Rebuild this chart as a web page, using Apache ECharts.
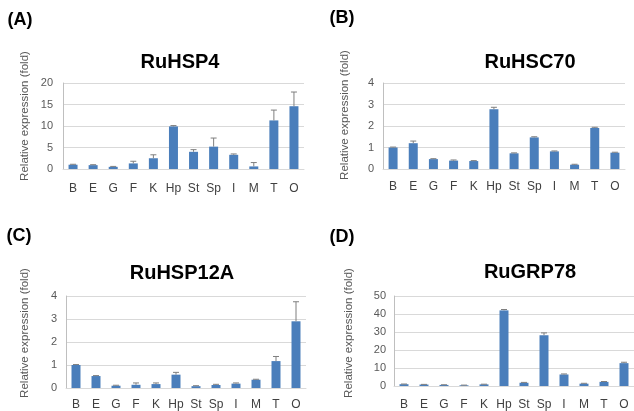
<!DOCTYPE html>
<html><head><meta charset="utf-8">
<script src="https://cdn.jsdelivr.net/npm/echarts@6/dist/echarts.min.js"></script>
<style>html,body{margin:0;padding:0;background:#fff}#c{width:634px;height:411px}</style>
</head><body><div id="c"></div>
<script>
const categories = ['B','E','G','F','K','Hp','St','Sp','I','M','T','O'];
const panelLabels = ['(A)','(B)','(C)','(D)'];
const titles = ['RuHSP4','RuHSC70','RuHSP12A','RuGRP78'];
const yName = 'Relative expression (fold)';
const yMax = [20, 4, 4, 50];
const yInterval = [5, 1, 1, 10];
const valuesA = [1.0, 0.9, 0.5, 1.3, 2.5, 9.9, 4.0, 5.2, 3.3, 0.6, 11.3, 14.6];
const errorsA = [0.1, 0.1, 0.1, 0.5, 0.8, 0.2, 0.5, 2.0, 0.2, 0.9, 2.4, 3.3];
const valuesB = [1.0, 1.2, 0.46, 0.39, 0.37, 2.78, 0.73, 1.47, 0.82, 0.2, 1.91, 0.76];
const errorsB = [0.02, 0.1, 0.02, 0.03, 0.02, 0.09, 0.02, 0.03, 0.02, 0.02, 0.03, 0.02];
const valuesC = [1.0, 0.52, 0.1, 0.14, 0.17, 0.58, 0.08, 0.13, 0.19, 0.36, 1.17, 2.9];
const errorsC = [0.02, 0.02, 0.02, 0.08, 0.05, 0.1, 0.02, 0.03, 0.03, 0.02, 0.2, 0.85];
const valuesD = [1.0, 0.8, 0.6, 0.4, 0.9, 42, 1.8, 28.2, 6.4, 1.3, 2.3, 12.7];
const errorsD = [0.1, 0.1, 0.1, 0.1, 0.1, 0.5, 0.2, 1.3, 0.3, 0.2, 0.2, 0.5];

const values = [valuesA, valuesB, valuesC, valuesD];
const errors = [errorsA, errorsB, errorsC, errorsD];

// layout
const grids = [
  {left: 63, top: 83, width: 241, height: 86},
  {left: 383, top: 83, width: 242, height: 86},
  {left: 66, top: 296, width: 240, height: 93},
  {left: 394, top: 296, width: 245, height: 91}
];
const titlePos = [[180, 62], [530, 62], [182, 273], [530, 272]];
const labelPos = [[20, 20], [342, 18], [19, 236], [342, 237]];
const yNamePos = [[25, 116], [345, 115], [25, 333], [349, 333]];
const catMargin = [14, 12, 11, 13];
const tickMargin = [10, 9, 9, 8];

const FONT = 'Liberation Sans, Arial, sans-serif';
const barColor = '#4a7ebb';

const option = {
  animation: false,
  backgroundColor: '#fff',
  grid: grids.map(g => Object.assign({containLabel: false}, g)),
  xAxis: grids.map((g, i) => ({
    type: 'category', gridIndex: i, data: categories,
    axisLine: {show: true, lineStyle: {color: '#d9d9d9'}},
    axisTick: {show: false},
    axisLabel: {color: '#404040', fontSize: 12, fontFamily: FONT, margin: catMargin[i], interval: 0}
  })),
  yAxis: grids.map((g, i) => ({
    type: 'value', gridIndex: i, min: 0, max: yMax[i], interval: yInterval[i],
    axisLine: {show: true, lineStyle: {color: '#bfbfbf'}},
    axisTick: {show: false},
    splitLine: {show: true, lineStyle: {color: '#d9d9d9'}},
    axisLabel: {color: '#595959', fontSize: 11, fontFamily: FONT, margin: tickMargin[i]}
  })),
  series: [],
  graphic: []
};

values.forEach((vals, i) => {
  option.series.push({
    type: 'bar', xAxisIndex: i, yAxisIndex: i, data: vals,
    barWidth: 9, itemStyle: {color: barColor}, z: 2
  });
  option.series.push({
    type: 'custom', xAxisIndex: i, yAxisIndex: i,
    data: vals.map((v, k) => [k, v, v + errors[i][k]]),
    renderItem: function (params, api) {
      const x = api.value(0);
      const p0 = api.coord([x, api.value(1)]);
      const p1 = api.coord([x, api.value(2)]);
      const hw = 3;
      return {
        type: 'group',
        children: [
          {type: 'line', shape: {x1: p0[0], y1: p0[1], x2: p1[0], y2: p1[1]}, style: {stroke: '#7f7f7f', lineWidth: 1}},
          {type: 'line', shape: {x1: p1[0] - hw, y1: p1[1], x2: p1[0] + hw, y2: p1[1]}, style: {stroke: '#7f7f7f', lineWidth: 1}}
        ]
      };
    },
    z: 3
  });
  option.graphic.push({
    type: 'text', x: titlePos[i][0], y: titlePos[i][1],
    style: {text: titles[i], font: 'bold 20px ' + FONT, fill: '#000', align: 'center', verticalAlign: 'middle'}
  });
  option.graphic.push({
    type: 'text', x: labelPos[i][0], y: labelPos[i][1],
    style: {text: panelLabels[i], font: 'bold 18px ' + FONT, fill: '#000', align: 'center', verticalAlign: 'middle'}
  });
  option.graphic.push({
    type: 'text', x: yNamePos[i][0], y: yNamePos[i][1], rotation: Math.PI / 2,
    style: {text: yName, font: '11.5px ' + FONT, fill: '#595959', align: 'center', verticalAlign: 'middle'}
  });
});

const chart = echarts.init(document.getElementById('c'), null, {renderer: 'canvas'});
chart.setOption(option);
</script>
</body></html>
